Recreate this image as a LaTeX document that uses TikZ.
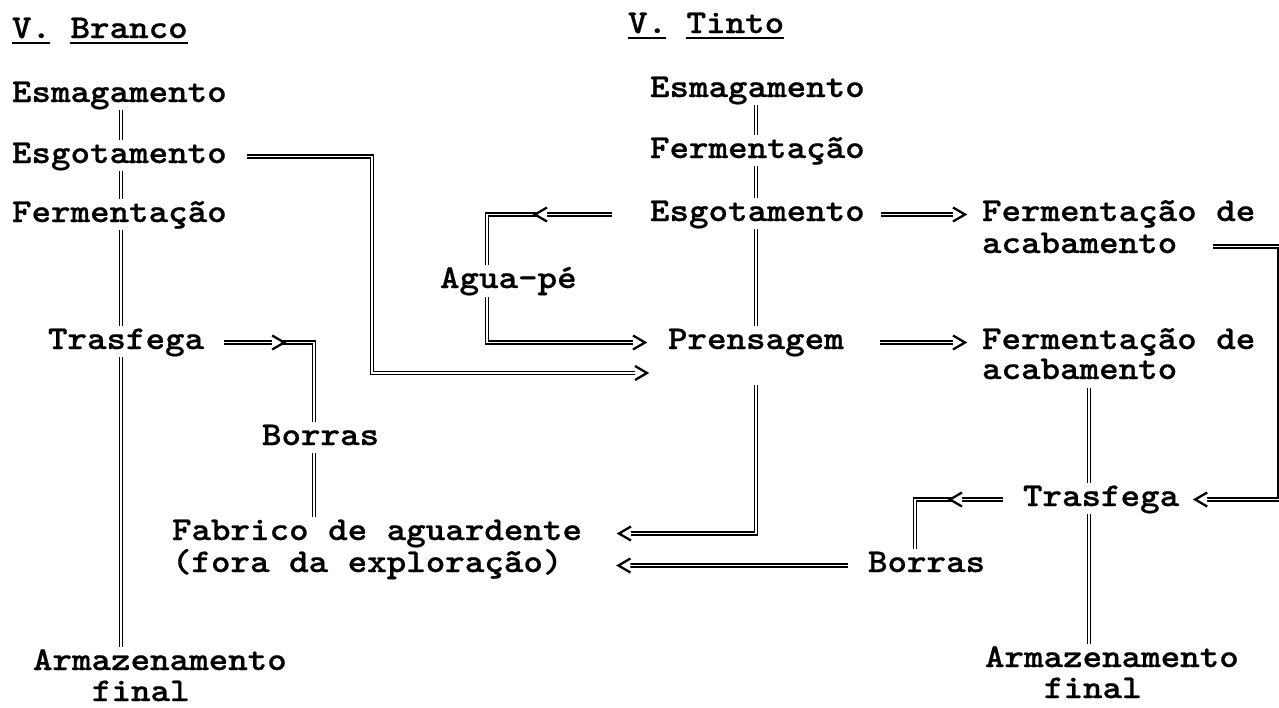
\documentclass[tikz,border=0pt]{standalone}
\usepackage{fontspec}
\newfontfamily\twfont[FakeStretch=1.12,FakeBold=0.6]{lmmonolt10-bold.otf}
\usetikzlibrary{calc}
\tikzset{
  txt/.style={anchor=base west,inner sep=0pt,outer sep=0pt,text height=19pt,text depth=6pt,
    font=\twfont\fontsize{33.2}{36}\selectfont},
  dbl/.style={draw=black,line width=1.5pt,double=white,double distance=1.9pt},
  chv/.style={draw=black,line width=2.3pt},
  uline/.style={draw=black,line width=2pt},
  chevR/.pic={\fill[white] (-12,-7) -- (0,0) -- (-12,7) -- cycle;
              \draw[chv] (-12,-7) -- (0,0) -- (-12,7);},
  chevL/.pic={\fill[white] (12,-7) -- (0,0) -- (12,7) -- cycle;
              \draw[chv] (12,-7) -- (0,0) -- (12,7);}
}
\begin{document}
\begin{tikzpicture}[x=1pt,y=-1pt]
\fill[white] (0,0) rectangle (1279,707);
\useasboundingbox (0,0) rectangle (1279,707);

% ---- V. Branco column
\node[txt] (hB) at (12,38) {V. Branco};
\node[txt] (esmL) at (12,102) {Esmagamento};
\node[txt] (esgL) at (12,163) {Esgotamento};
\node[txt] (ferL) at (12,222) {Fermentação};
\node[txt] (trasL) at (48,349) {Trasfega};
\node[txt] (borL) at (262,445) {Borras};
\node[txt] (fab1) at (172,540) {Fabrico de aguardente};
\node[txt] (fab2) at (172,572) {(fora da exploração)};
\node[txt] (arm1L) at (33,670) {Armazenamento};
\node[txt] (arm2L) at (92,701) {final};

% ---- V. Tinto column
\node[txt] (hT) at (628,33) {V. Tinto};
\node[txt] (esmR) at (650,97) {Esmagamento};
\node[txt] (ferR) at (650,158) {Fermentação};
\node[txt] (esgR) at (650,221) {Esgotamento};
\node[txt] (agua) at (440,288) {Agua-pé};
\node[txt] (pren) at (668,349) {Prensagem};
\node[txt] (fa1) at (982,221) {Fermentação de};
\node[txt] (ac1) at (982,253) {acabamento};
\node[txt] (fa2) at (982,349) {Fermentação de};
\node[txt] (ac2) at (982,379) {acabamento};
\node[txt] (trasR) at (1023,506) {Trasfega};
\node[txt] (borR) at (868,572) {Borras};
\node[txt] (arm1R) at (985,667) {Armazenamento};
\node[txt] (arm2R) at (1044,698) {final};

% underlines of headings
\draw[uline] ($(hB.base west)+(0,5)$) -- +(38,0);
\draw[uline] ($(hB.base west)+(58,5)$) -- +(118,0);
\draw[uline] ($(hT.base west)+(0,5)$) -- +(38,0);
\draw[uline] ($(hT.base west)+(58,5)$) -- +(98,0);

% column positions
\coordinate (xL) at (121,0);
\coordinate (xB) at (314,0);
\coordinate (xC) at (372,0);
\coordinate (xA) at (487,0);
\coordinate (xT) at (756,0);
\coordinate (xbR) at (915,0);
\coordinate (xR) at (1089,0);
\coordinate (xE) at (1279.5,0);
\coordinate (tipLow) at (647,373);

% ---- left verticals
\draw[dbl,shorten <=2pt,shorten >=4pt] (esmL.south -| xL) -- (esgL.north -| xL);
\draw[dbl,shorten <=2pt,shorten >=4pt] (esgL.south -| xL) -- (ferL.north -| xL);
\draw[dbl,shorten <=2pt,shorten >=4pt] (ferL.south -| xL) -- (trasL.north -| xL);
\draw[dbl,shorten <=2pt,shorten >=4pt] (trasL.south -| xL) -- (arm1L.north -| xL);

% Esgotamento (branco) -> Prensagem
\draw[dbl,shorten <=20pt,shorten >=3pt] (esgL.east) -| (xC |- tipLow) -- (tipLow);
\pic at (tipLow) {chevR};

% Trasfega -> Borras -> Fabrico
\draw[dbl,shorten <=20pt,shorten >=4pt] (trasL.east) -| (xB |- borL.north);
\pic at ($(trasL.east)+(80,0)$) {chevR};
\draw[dbl,shorten <=2pt,shorten >=4pt] (borL.south -| xB) -- (fab1.north -| xB);

% ---- tinto verticals
\draw[dbl,shorten <=2pt,shorten >=4pt] (esmR.south -| xT) -- (ferR.north -| xT);
\draw[dbl,shorten <=2pt,shorten >=4pt] (ferR.south -| xT) -- (esgR.north -| xT);
\draw[dbl,shorten <=2pt,shorten >=4pt] (esgR.south -| xT) -- (pren.north -| xT);

% Esgotamento -> Agua-pe -> Prensagem
\draw[dbl,shorten <=38pt,shorten >=4pt] (esgR.west) -| (xA |- agua.north);
\pic at ($(esgR.west)+(-115,0)$) {chevL};
\draw[dbl,shorten <=3pt,shorten >=26pt] (agua.south -| xA) |- (pren.west);
\pic at ($(pren.west)+(-23,0)$) {chevR};

% Esgotamento -> Fermentacao de acabamento
\draw[dbl,shorten <=16pt,shorten >=20pt] (esgR.east) -- (fa1.west);
\pic at ($(fa1.west)+(-17,0)$) {chevR};
% Prensagem -> Fermentacao de acabamento
\draw[dbl,shorten <=36pt,shorten >=20pt] (pren.east) -- (fa2.west);
\pic at ($(fa2.west)+(-17,0)$) {chevR};

% Prensagem -> Fabrico de aguardente
\draw[dbl,shorten <=30pt,shorten >=40pt] (pren.south -| xT) |- (fab1.east);
\pic at ($(fab1.east)+(37,0)$) {chevL};

% acabamento (1) -> Trasfega (right edge)
\draw[dbl,shorten <=36pt,shorten >=18pt] (ac1.east) -- (xE |- ac1.east) |- (trasR.east);
\pic at ($(trasR.east)+(16,0)$) {chevL};

% acabamento (2) -> Trasfega -> Armazenamento
\draw[dbl,shorten <=3pt,shorten >=4pt] (ac2.south -| xR) -- (trasR.north -| xR);
\draw[dbl,shorten <=2pt,shorten >=4pt] (trasR.south -| xR) -- (arm1R.north -| xR);

% Trasfega -> Borras -> Fabrico
\draw[dbl,shorten <=20pt,shorten >=4pt] (trasR.west) -| (xbR |- borR.north);
\pic at ($(trasR.west)+(-73,0)$) {chevL};
\draw[dbl,shorten <=20pt,shorten >=59pt] (borR.west) -- (fab2.east);
\pic at ($(fab2.east)+(56,0)$) {chevL};
\end{tikzpicture}
\end{document}
